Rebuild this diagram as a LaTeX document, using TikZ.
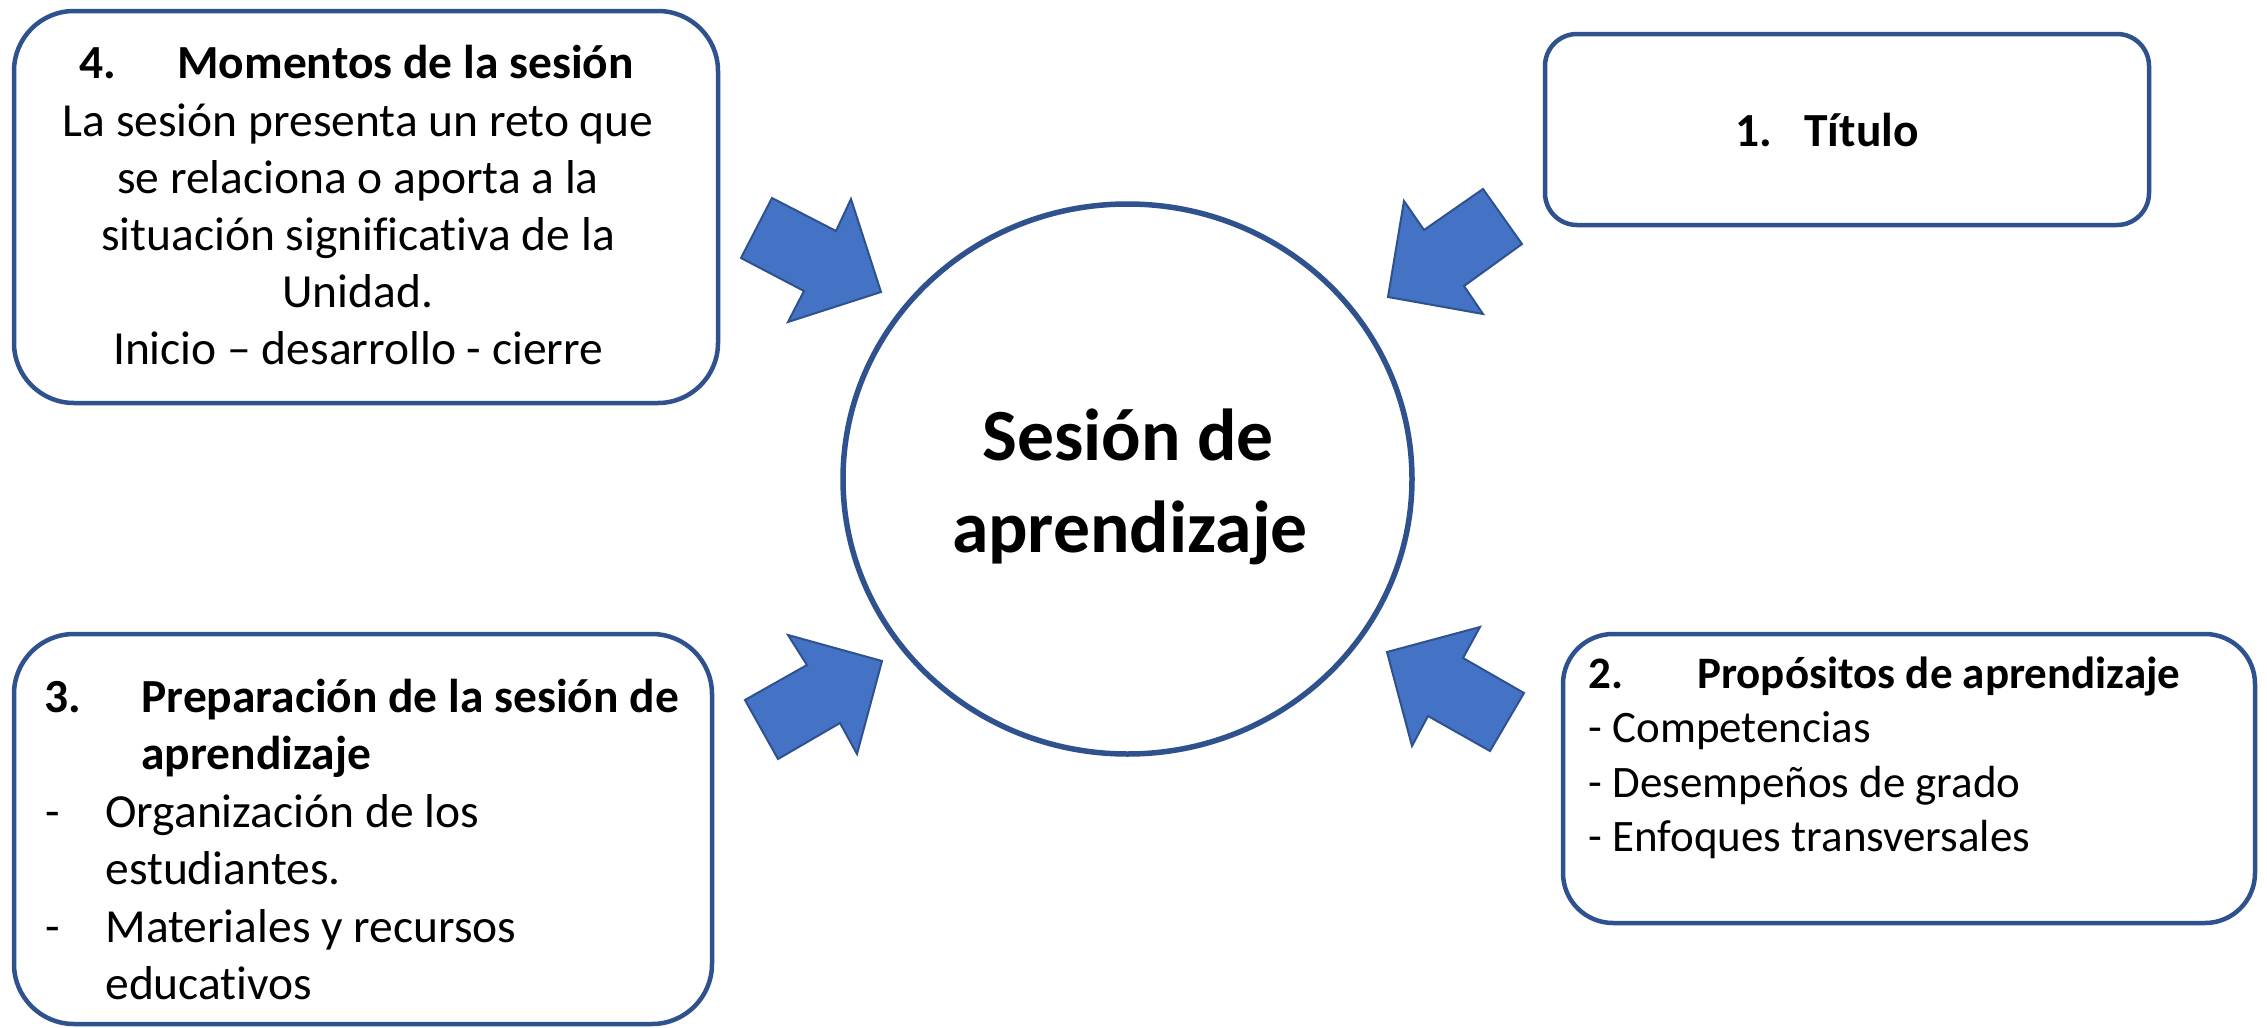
\documentclass[tikz,border=0pt]{standalone}
\usepackage{fontspec}
\setmainfont{Carlito}[Ligatures=NoCommon]
\usetikzlibrary{shapes.geometric,fit}
\definecolor{boxline}{HTML}{2F528F}
\definecolor{arrowfill}{HTML}{4472C4}
\begin{document}
\begin{tikzpicture}[x=0.5pt,y=-0.5pt,
  box/.style={draw=boxline, line width=2.25pt, inner sep=0pt, rectangle},
  blockarrow/.style={fill=arrowfill, draw=boxline, line width=1pt, line join=miter},
  txt/.style={inner sep=0pt, anchor=base west},
  bodyA/.style={font=\fontsize{23.75}{28.5}\selectfont},
  bodyB/.style={font=\fontsize{22.5}{27}\selectfont},
]
\useasboundingbox (0,0) rectangle (2267,1028);
\fill[white] (0,0) rectangle (2267,1028);

% boxes
\node[box, rounded corners=30pt, fit={(14,11) (718,403)}] (b4) {};
\node[box, rounded corners=16pt, fit={(1545,34) (2149,225)}] (b1) {};
\node[box, rounded corners=30pt, fit={(14,634) (712,1024)}] (b3) {};
\node[box, rounded corners=25pt, fit={(1563,634) (2255,923)}] (b2) {};

% central ellipse
\node[draw=boxline, line width=2.75pt, ellipse, minimum width=284.5pt, minimum height=275pt, inner sep=0pt] (c) at (1127.5,479) {};

% block arrows
\draw[blockarrow] (772,198) -- (836,231) -- (851,199) -- (881,292) -- (788,322) -- (804,291) -- (741,258) -- cycle;
\draw[blockarrow] (1483,189) -- (1424,230) -- (1404,201) -- (1388,297) -- (1483,314) -- (1464,286) -- (1522,244) -- cycle;
\draw[blockarrow] (788,635) -- (807,665) -- (745,700) -- (778,759) -- (840,723) -- (857,754) -- (882,661) -- cycle;
\draw[blockarrow] (1387,652) -- (1480,627) -- (1463,658) -- (1524,693) -- (1490,751) -- (1428,716) -- (1412,746) -- cycle;

% box 4 text
\node[txt, bodyA] (t4n) at (79,78) {\textbf{4.}};
\node[txt, bodyA] (t4h) at (177,78) {\textbf{Momentos de la sesión}};
\node[inner sep=0pt, anchor=base] (t4b) at (358,136) {\parbox[t]{330pt}{\centering\fontsize{23.75}{28.5}\selectfont
La sesión presenta un reto que\\
se relaciona o aporta a la\\
situación significativa de la\\
Unidad.\\
Inicio – desarrollo - cierre}};

% box 1 text
\node[txt, bodyA] (t1n) at (1735,146) {\textbf{1.}};
\node[txt, bodyA] (t1h) at (1804,146) {\textbf{Título}};

% box 3 text
\node[txt, bodyA] (t3n) at (44,712) {\textbf{3.}};
\node[txt, bodyA] (t3h1) at (141,712) {\textbf{Preparación de la sesión de}};
\node[txt, bodyA] (t3h2) at (141,769.5) {\textbf{aprendizaje}};
\node[txt, bodyA] (t3d1) at (45,827) {-};
\node[txt, bodyA] (t3l1) at (105,827) {Organización de los};
\node[txt, bodyA] (t3l2) at (105,884.5) {estudiantes.};
\node[txt, bodyA] (t3d2) at (45,942) {-};
\node[txt, bodyA] (t3l3) at (105,942) {Materiales y recursos};
\node[txt, bodyA] (t3l4) at (105,999.5) {educativos};

% box 2 text
\node[txt, bodyB] (t2n) at (1588,688) {\textbf{2.}};
\node[txt, bodyB] (t2h) at (1697,688) {\textbf{Propósitos de aprendizaje}};
\node[txt, bodyB] (t2l1) at (1588,742) {- Competencias};
\node[txt, bodyB] (t2l2) at (1588,797) {- Desempeños de grado};
\node[txt, bodyB] (t2l3) at (1588,851) {- Enfoques transversales};

% center text
\node[inner sep=0pt, anchor=base, font=\fontsize{36.8}{40}\selectfont\bfseries] (ct1) at (1128,460) {Sesión de};
\node[inner sep=0pt, anchor=base, font=\fontsize{36.8}{40}\selectfont\bfseries] (ct2) at (1130,552) {aprendizaje};
\end{tikzpicture}
\end{document}
